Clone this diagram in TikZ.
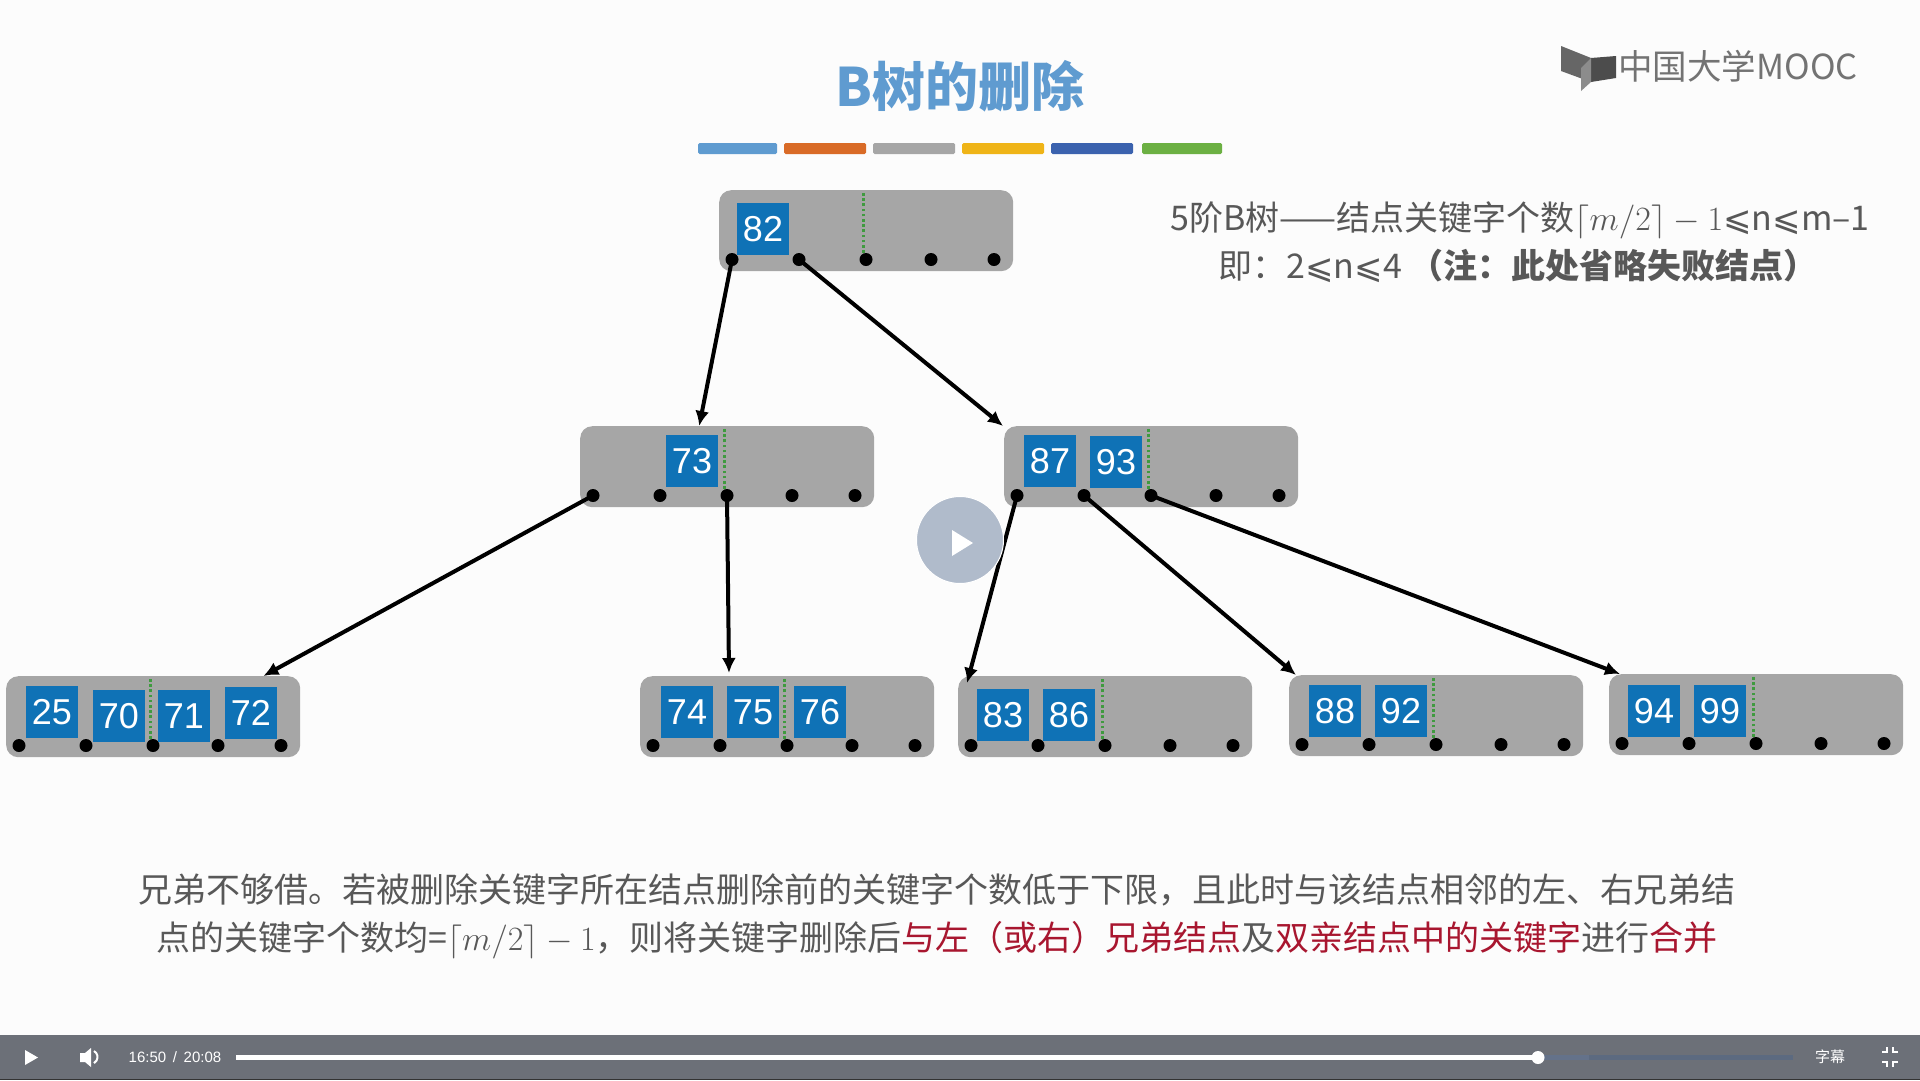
\documentclass[tikz,border=0pt]{standalone}
\usepackage{fix-cm}
\usepackage{amsmath,amssymb}
\usepackage[no-math]{fontspec}
\usepackage{xcolor}
\setmainfont{Noto Sans CJK SC}
\newfontfamily\keyfont{Liberation Sans}
\newfontfamily\dejafont{DejaVu Sans}
\usetikzlibrary{arrows.meta,positioning,calc}
\definecolor{boxgray}{HTML}{A6A6A6}
\definecolor{keyblue}{HTML}{0F72B6}
\definecolor{titleblue}{HTML}{5F9BD0}
\definecolor{textgray}{HTML}{585858}
\definecolor{markred}{HTML}{A8162F}
\definecolor{barbg}{HTML}{6C7078}
\definecolor{playgray}{HTML}{B0BBCB}
\definecolor{barorange}{HTML}{D96B27}
\definecolor{baryellow}{HTML}{EFB417}
\definecolor{barblue}{HTML}{3B62AE}
\definecolor{bargreen}{HTML}{6CB043}
\definecolor{trackblue}{HTML}{5C6A80}
\definecolor{trackdark}{HTML}{64728A}
\definecolor{splitgreen}{HTML}{3F9A3F}
\newcommand{\leqs}{{\dejafont ⩽}}

\begin{document}
\begin{tikzpicture}[x=1pt, y=-1pt,
  bnode/.style={rectangle, fill=boxgray, rounded corners=12pt, minimum width=294pt, minimum height=81pt, inner sep=0pt, anchor=north west},
  keybox/.style={rectangle, fill=keyblue, minimum size=52pt, inner sep=0pt, text=white, font=\keyfont\fontsize{36}{40}\selectfont},
  ptr/.style={circle, fill=black, minimum size=13pt, inner sep=0pt},
  split/.style={draw=splitgreen, line width=3pt, dash pattern=on 2.6pt off 2.6pt},
  line/.style={draw, -{Latex[length=15pt,width=14pt]}, line width=4pt},
  note/.style={text=textgray, inner sep=0pt, font=\fontsize{34}{40}\selectfont},
  bar/.style={rounded corners=1.5pt},
  ctrl/.style={text=white, inner sep=0pt, font=\keyfont\fontsize{15}{18}\selectfont}]

  \useasboundingbox (0,0) rectangle (1920,1080);
  \fill[white!99!black] (0,0) rectangle (1920,1080);

  % title and colour bars
  \node [text=titleblue, font=\bfseries\fontsize{53}{60}\selectfont] (title) at (960,86) {B树的删除};
  \fill[bar,fill=titleblue] (698,143) rectangle (777,154);
  \fill[bar,fill=barorange] (784,143) rectangle (866,154);
  \fill[bar,fill=boxgray] (873,143) rectangle (955,154);
  \fill[bar,fill=baryellow] (962,143) rectangle (1044,154);
  \fill[bar,fill=barblue] (1051,143) rectangle (1133,154);
  \fill[bar,fill=bargreen] (1142,143) rectangle (1222,154);

  % logo
  \fill[black!60] (1561,46) -- (1591,58) -- (1591,82) -- (1561,71) -- cycle;
  \fill[black!70] (1591,58) -- (1616,56) -- (1616,78) -- (1591,82) -- cycle;
  \fill[black!45] (1581,68) -- (1591,58) -- (1591,82) -- (1581,91) -- cycle;
  \node [text=black!55, inner sep=0pt, font=\fontsize{34.5}{38}\selectfont] (logo) at (1738,66) {中国大学MOOC};

  % tree nodes
  \node [bnode] (r)  at (719,190) {};
  \node [bnode] (ml) at (580,426) {};
  \node [bnode] (mr) at (1004,426) {};
  \node [bnode] (a)  at (6,676) {};
  \node [bnode] (b)  at (640,676) {};
  \node [bnode] (c)  at (958,676) {};
  \node [bnode] (d)  at (1289,675) {};
  \node [bnode] (e)  at (1609,674) {};

  \foreach \b in {r,ml,mr,a,b,c,d,e}
    \foreach \n/\xx in {1/13,2/80,3/147,4/212,5/275}
      \node [ptr] (\b-\n) at ([shift={(\xx,69.5)}]\b.north west) {};

  % keys
  \node [keybox] (k82) at ([shift={(44,39)}]r.north west) {82};
  \node [keybox] (k73) at ([shift={(112,35)}]ml.north west) {73};
  \node [keybox] (k87) at ([shift={(46,35)}]mr.north west) {87};
  \node [keybox] (k93) at ([shift={(112,36)}]mr.north west) {93};
  \node [keybox] (k25) at ([shift={(46,36)}]a.north west) {25};
  \node [keybox] (k70) at ([shift={(113,40)}]a.north west) {70};
  \node [keybox] (k71) at ([shift={(178,40)}]a.north west) {71};
  \node [keybox] (k72) at ([shift={(245,37)}]a.north west) {72};
  \node [keybox] (k74) at ([shift={(47,36)}]b.north west) {74};
  \node [keybox] (k75) at ([shift={(113,36)}]b.north west) {75};
  \node [keybox] (k76) at ([shift={(180,36)}]b.north west) {76};
  \node [keybox] (k83) at ([shift={(45,39)}]c.north west) {83};
  \node [keybox] (k86) at ([shift={(111,39)}]c.north west) {86};
  \node [keybox] (k88) at ([shift={(46,36)}]d.north west) {88};
  \node [keybox] (k92) at ([shift={(112,36)}]d.north west) {92};
  \node [keybox] (k94) at ([shift={(45,37)}]e.north west) {94};
  \node [keybox] (k99) at ([shift={(111,37)}]e.north west) {99};

  \foreach \b in {r,ml,mr,a,b,c,d,e}
    \draw [split] ([xshift=-2.5pt]\b-3.north) -- ([shift={(-2.5pt,-2pt)}]\b-3 |- \b.north);

  % pointers
  \path [line] (r-1.center) -- ([xshift=-28pt]ml.north);
  \path [line] (r-2.center) -- ([xshift=-1pt]mr.north west);
  \path [line] (ml-1.center) -- ([xshift=-37pt]a.north east);
  \path [line] (ml-3.center) -- ([shift={(2pt,3pt)}]ml-3 |- b.north);
  \path [line] (mr-1.center) -- ([shift={(9pt,-7pt)}]c.north west);
  \path [line] (mr-2.center) -- ([xshift=7pt]d.north west);
  \path [line] (mr-3.center) -- ([xshift=11pt]e.north west);

  % notes
  \node [note] (rule) at (1520,220) {5阶B树——结点关键字个数$\lceil m/2\rceil-1$\leqs n\leqs m–1};
  \node [note] (range) at (1518,266) {即：2\leqs n\leqs 4 \textbf{（注：此处省略失败结点）}};
  \node [note] (descone) at (937,890) {兄弟不够借。若被删除关键字所在结点删除前的关键字个数低于下限，且此时与该结点相邻的左、右兄弟结};
  \node [note] (desctwo) at (937,940) {点的关键字个数均=$\lceil m/2\rceil-1$，则将关键字删除后\textcolor{markred}{与左（或右）兄弟结点}及\textcolor{markred}{双亲结点中的关键字}进行\textcolor{markred}{合并}};

  % play overlay
  \node [circle, fill=playgray, draw=white, line width=1pt, minimum size=87pt, inner sep=0pt] (playbig) at (960,540) {};
  \fill[white] (952,530) -- (973,543) -- (952,556) -- cycle;

  % player bar
  \fill[barbg] (0,1035) rectangle (1920,1079);
  \fill[black!80] (0,1079) rectangle (1920,1080);
  \fill[white] (25,1050) -- (38,1057.5) -- (25,1065) -- cycle;
  \fill[white] (80,1053) -- (85,1053) -- (91,1048) -- (91,1067) -- (85,1062) -- (80,1062) -- cycle;
  \draw[white, line width=2pt] (94,1051) arc (-60:60:7);
  \node [ctrl] (clock) at (175,1057) {16:50 \,/\, 20:08};
  \fill[trackblue] (1538,1055) rectangle (1793,1060);
  \fill[trackdark] (1538,1055) rectangle (1589,1060);
  \fill[white] (236,1055) rectangle (1538,1060);
  \node [circle, fill=white, minimum size=13pt, inner sep=0pt] (knob) at (1538,1057.5) {};
  \node [text=white, inner sep=0pt, font=\fontsize{15}{18}\selectfont] (subs) at (1830,1057) {字幕};
  \draw[white, line width=2.4pt]
    (1882,1052) -- (1887,1052) -- (1887,1047)
    (1898,1052) -- (1893,1052) -- (1893,1047)
    (1882,1062) -- (1887,1062) -- (1887,1067)
    (1898,1062) -- (1893,1062) -- (1893,1067);
\end{tikzpicture}
\end{document}
